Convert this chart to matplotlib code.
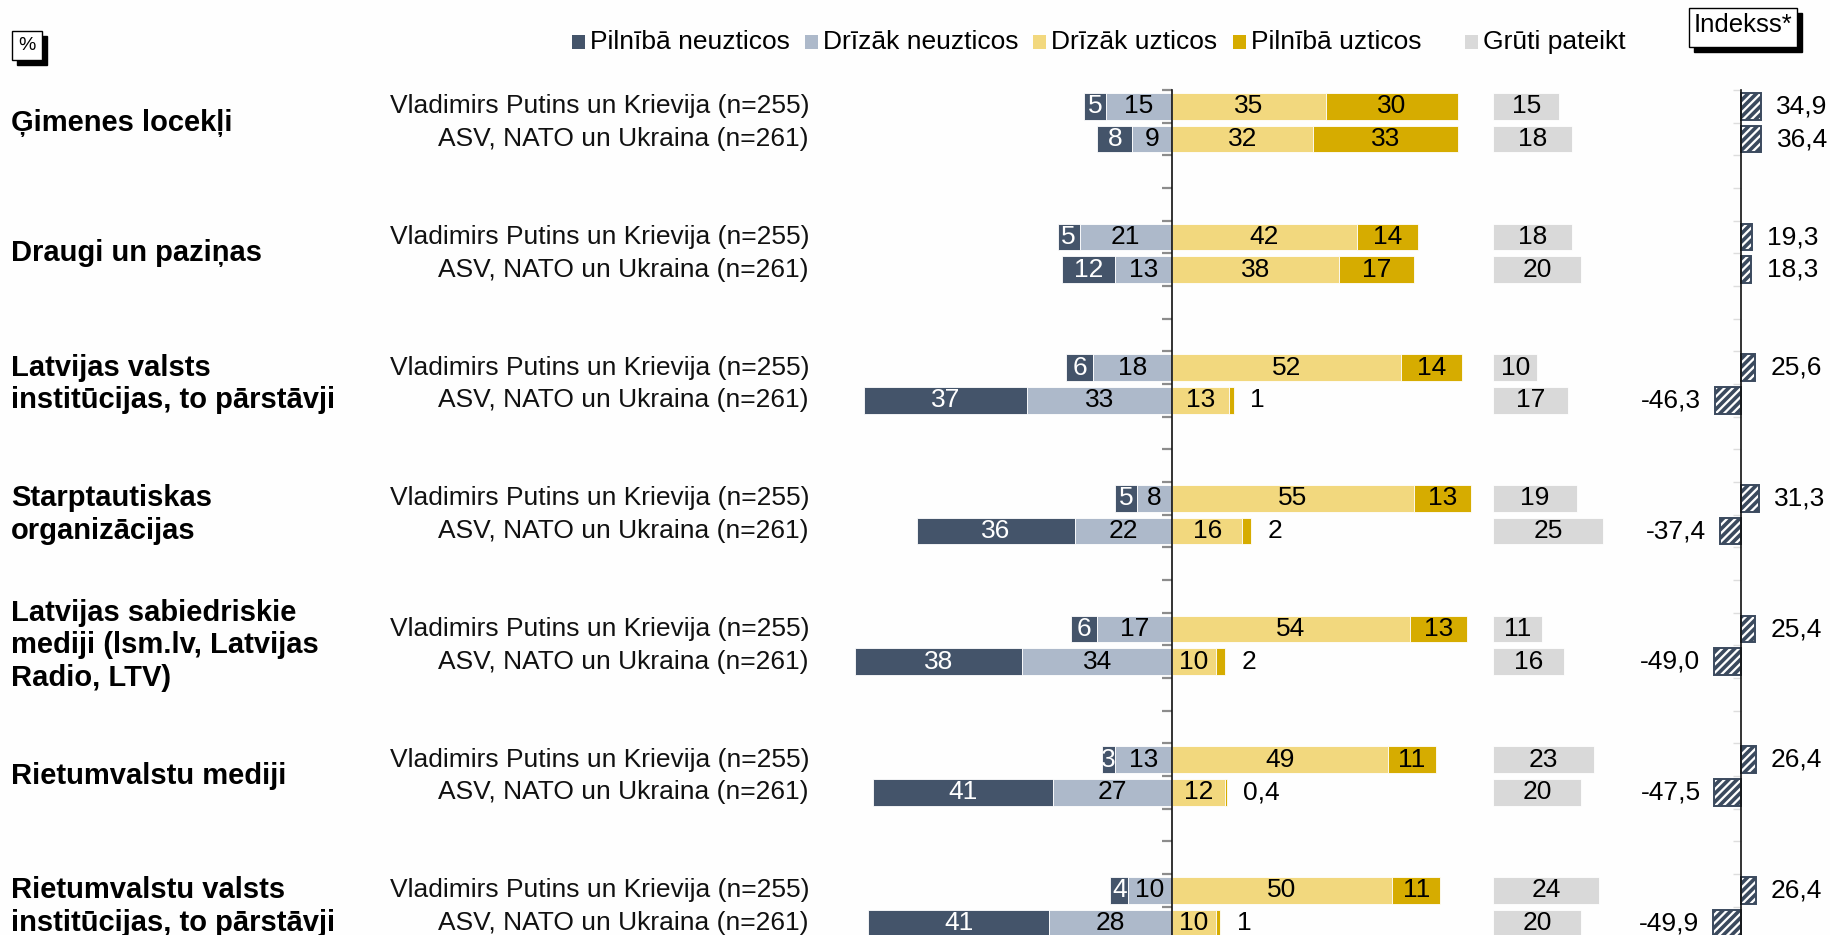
import matplotlib
matplotlib.use("Agg")
import matplotlib.pyplot as plt
from matplotlib.patches import Rectangle
import numpy as np

plt.rcParams["font.family"] = ["Liberation Sans", "DejaVu Sans"]
plt.rcParams["hatch.linewidth"] = 2.6

# ---- data -------------------------------------------------------------
categories = [
    "Ģimenes locekļi",
    "Draugi un paziņas",
    "Latvijas valsts\ninstitūcijas, to pārstāvji",
    "Starptautiskas\norganizācijas",
    "Latvijas sabiedriskie\nmediji (lsm.lv, Latvijas\nRadio, LTV)",
    "Rietumvalstu mediji",
    "Rietumvalstu valsts\ninstitūcijas, to pārstāvji",
]
groups = ["Vladimirs Putins un Krievija (n=255)", "ASV, NATO un Ukraina (n=261)"]
series = ["Pilnībā neuzticos", "Drīzāk neuzticos", "Drīzāk uzticos",
          "Pilnībā uzticos", "Grūti pateikt"]

full_distrust_vp = [5, 5, 6, 5, 6, 3, 4]
full_distrust_us = [8, 12, 37, 36, 38, 41, 41]
rather_distrust_vp = [15, 21, 18, 8, 17, 13, 10]
rather_distrust_us = [9, 13, 33, 22, 34, 27, 28]
rather_trust_vp = [35, 42, 52, 55, 54, 49, 50]
rather_trust_us = [32, 38, 13, 16, 10, 12, 10]
full_trust_vp = [30, 14, 14, 13, 13, 11, 11]
full_trust_us = [33, 17, 1, 2, 2, 0.4, 1]
hard_to_say_vp = [15, 18, 10, 19, 11, 23, 24]
hard_to_say_us = [18, 20, 17, 25, 16, 20, 20]
index_vp = [34.9, 19.3, 25.6, 31.3, 25.4, 26.4, 26.4]
index_us = [36.4, 18.3, -46.3, -37.4, -49.0, -47.5, -49.9]

colors = ["#44546A", "#ADB9CA", "#F2D87E", "#D6AC00", "#D9D9D9"]
INDEX_COLOR = "#3B4A5E"

# ---- layout (pixels) -------------------------------------------------
W, H = 1830, 935
TOP = 90            # top of the plotting band
SLOT = 32.67        # height of one row slot
ZERO_MAIN = 1172    # x of the 0 % line
PX_PCT = 4.4        # pixels per percentage point
MAIN_X = (830, 1660)
ZERO_IDX = 1741
PX_IDX = 0.56
IDX_X = (1600, 1830)
HARD_OFFSET = 73    # where the "Grūti pateikt" column starts (in % units)
BAR_H = 0.82
FS = 19

fig = plt.figure(figsize=(W / 100, H / 100), dpi=100)
fig.patch.set_facecolor("#FEFEFE")

y_bottom = -0.5 + (H - TOP) / SLOT


def make_axes(x0, x1, zero, scale):
    ax = fig.add_axes([x0 / W, 0, (x1 - x0) / W, (H - TOP) / H])
    ax.set_xlim((x0 - zero) / scale, (x1 - zero) / scale)
    ax.set_ylim(y_bottom, -0.5)
    ax.patch.set_alpha(0)
    for s in ("top", "right", "bottom"):
        ax.spines[s].set_visible(False)
    ax.spines["left"].set_position(("data", 0))
    ax.spines["left"].set_linewidth(1.2)
    ax.spines["left"].set_color("#111111")
    ax.set_xticks([])
    ax.set_yticks(np.arange(-0.5, y_bottom, 1.0))
    ax.set_yticklabels([])
    return ax


ax = make_axes(*MAIN_X, ZERO_MAIN, PX_PCT)
ax.tick_params(axis="y", direction="out", length=7, width=1.6, color="#8C8C8C")
axi = make_axes(*IDX_X, ZERO_IDX, PX_IDX)
axi.tick_params(axis="y", direction="out", length=6, width=1.0, color="#DDDDDD")


def fmt(v):
    return f"{v:g}".replace(".", ",")


rows = [
    (full_distrust_vp, rather_distrust_vp, rather_trust_vp, full_trust_vp, hard_to_say_vp, index_vp),
    (full_distrust_us, rather_distrust_us, rather_trust_us, full_trust_us, hard_to_say_us, index_us),
]

for g, cat in enumerate(categories):
    y_pair = [4 * g, 4 * g + 1]
    ax.text(-(ZERO_MAIN - 11) / PX_PCT, 4 * g + 0.5, cat, ha="left", va="center",
            fontsize=21, fontweight="bold", linespacing=1.22, color="#000000")
    for r, (fd, rd, rt, ft, hs, idx) in enumerate(rows):
        y = y_pair[r]
        ax.text(-(ZERO_MAIN - 809) / PX_PCT, y, groups[r], ha="right", va="center",
                fontsize=FS, color="#111111")
        segs = [
            (-rd[g] - fd[g], fd[g], colors[0], "white"),
            (-rd[g], rd[g], colors[1], "black"),
            (0, rt[g], colors[2], "black"),
            (rt[g], ft[g], colors[3], "black"),
            (HARD_OFFSET, hs[g], colors[4], "black"),
        ]
        for k, (left, width, col, tcol) in enumerate(segs):
            ax.barh(y, width, left=left, height=BAR_H, color=col,
                    edgecolor="white", linewidth=0.6)
            if width < 3 and k == 3:
                ax.annotate(fmt(width), (left + width, y), xytext=(12, 0),
                            textcoords="offset points", ha="left", va="center",
                            fontsize=FS, color="black")
            else:
                ax.text(left + width / 2, y, fmt(width), ha="center", va="center",
                        fontsize=FS, color=tcol)
        v = idx[g]
        axi.barh(y, v, height=BAR_H, facecolor="white", edgecolor=INDEX_COLOR,
                 hatch="////", linewidth=1.4)
        off = 11 if v >= 0 else -10
        axi.annotate(f"{v:.1f}".replace(".", ","), (v, y), xytext=(off, 0),
                     textcoords="offset points", ha="left" if v >= 0 else "right",
                     va="center", fontsize=FS, color="black")

# ---- legend -------------------------------------------------------------
leg_x = [572, 805, 1033, 1233, 1465]
leg_y = 42
for x, lab, col in zip(leg_x, series, colors):
    fig.add_artist(Rectangle((x / W, (H - leg_y - 7) / H), 13 / W, 14 / H,
                             transform=fig.transFigure, facecolor=col,
                             edgecolor="none"))
    fig.text((x + 18) / W, (H - leg_y) / H, lab, ha="left", va="center",
             fontsize=FS, color="#000000")


# ---- boxed headers with drop shadow --------------------------------------
def shadow_box(x0, y0, x1, y1, text, fs, ty=None):
    w, h = x1 - x0, y1 - y0
    fig.add_artist(Rectangle(((x0 + 5) / W, (H - y1 - 5) / H), w / W, h / H,
                             transform=fig.transFigure, facecolor="black",
                             edgecolor="black"))
    fig.add_artist(Rectangle((x0 / W, (H - y1) / H), w / W, h / H,
                             transform=fig.transFigure, facecolor="white",
                             edgecolor="black", linewidth=1.0))
    ty = (y0 + y1) / 2 if ty is None else ty
    fig.text((x0 + x1) / 2 / W, (H - ty) / H, text, ha="center",
             va="center", fontsize=fs, color="black")


shadow_box(12, 31, 42, 60, "%", 14)
shadow_box(1689, 8, 1797, 47, "Indekss*", 18.5, ty=25)

fig.savefig("out.png", dpi=100, facecolor=fig.get_facecolor())
